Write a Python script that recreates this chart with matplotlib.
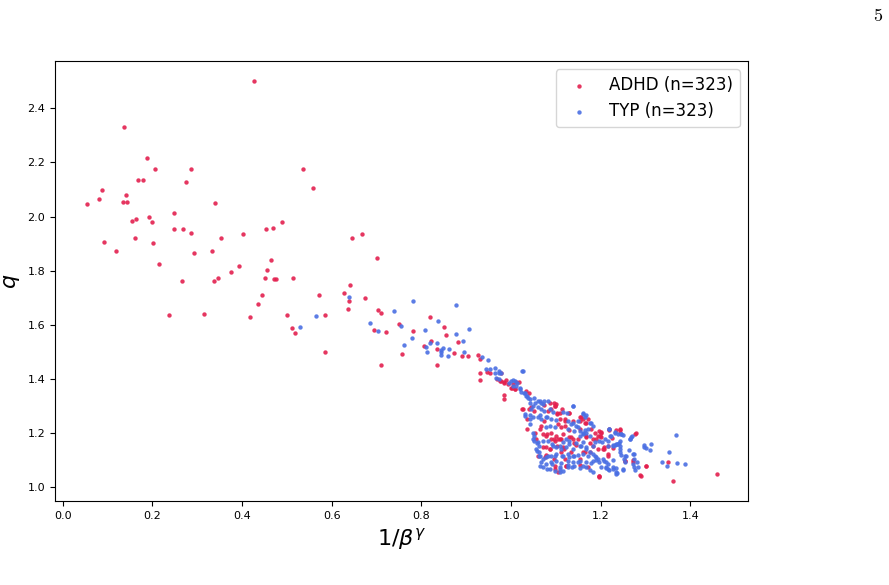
import numpy as np
import matplotlib
matplotlib.use('Agg')
import matplotlib.pyplot as plt

# ── Data ──────────────────────────────────────────────────────────────────────
n_adhd = 323
n_typ = 323

adhd_pts = [
    # sparse upper-left cloud
    (0.136, 2.331), (0.187, 2.215), (0.206, 2.175), (0.286, 2.175), (0.167, 2.136),
    (0.178, 2.136), (0.274, 2.129), (0.088, 2.098), (0.081, 2.066), (0.142, 2.080),
    (0.134, 2.055), (0.143, 2.054), (0.053, 2.045), (0.339, 2.049), (0.247, 2.013),
    (0.193, 1.997), (0.198, 1.978), (0.163, 1.991), (0.155, 1.984), (0.248, 1.953),
    (0.269, 1.953), (0.285, 1.940), (0.353, 1.921), (0.091, 1.904), (0.162, 1.920),
    (0.201, 1.903), (0.119, 1.874), (0.293, 1.865), (0.333, 1.874), (0.215, 1.823),
    (0.265, 1.762), (0.337, 1.760), (0.346, 1.771), (0.238, 1.636), (0.315, 1.641),
    (0.427, 2.501), (0.535, 2.174), (0.559, 2.104),
    (0.403, 1.937), (0.453, 1.955), (0.468, 1.959), (0.488, 1.981), (0.644, 1.921),
    (0.667, 1.937), (0.465, 1.840), (0.392, 1.818), (0.376, 1.796), (0.455, 1.802),
    (0.700, 1.847), (0.450, 1.774), (0.470, 1.769), (0.475, 1.769), (0.513, 1.774),
    (0.641, 1.747), (0.628, 1.717), (0.571, 1.711), (0.444, 1.711), (0.675, 1.699),
    (0.638, 1.686), (0.436, 1.677), (0.636, 1.658), (0.704, 1.655), (0.710, 1.642),
    (0.418, 1.628), (0.500, 1.636), (0.585, 1.636), (0.512, 1.587), (0.519, 1.569),
    (0.694, 1.581), (0.722, 1.572), (0.751, 1.604), (0.781, 1.575), (0.756, 1.493),
    (0.585, 1.499), (0.709, 1.450), (0.834, 1.450),
    (0.820, 1.629), (0.851, 1.590), (0.855, 1.563), (0.822, 1.539), (0.882, 1.537),
    (0.805, 1.523), (0.835, 1.511), (0.872, 1.495), (0.891, 1.483), (0.904, 1.486),
    (0.925, 1.489),
    # dense lower-right cluster
    (0.931, 1.474), (0.930, 1.423), (0.931, 1.395), (0.946, 1.425), (0.953, 1.423),
    (0.977, 1.393), (0.983, 1.388), (0.989, 1.395), (1.004, 1.380), (1.010, 1.388),
    (1.017, 1.388), (0.985, 1.341), (0.985, 1.327), (1.000, 1.367), (1.008, 1.361),
    (1.034, 1.355), (1.040, 1.349), (1.074, 1.302), (1.086, 1.312), (1.101, 1.306),
    (1.097, 1.300), (1.026, 1.290), (1.045, 1.294), (1.082, 1.281), (1.089, 1.287),
    (1.102, 1.273), (1.108, 1.275), (1.130, 1.275), (1.154, 1.260), (1.160, 1.251),
    (1.035, 1.251), (1.074, 1.244), (1.108, 1.253), (1.119, 1.244), (1.138, 1.244),
    (1.167, 1.238), (1.171, 1.251), (1.067, 1.226), (1.065, 1.214), (1.104, 1.232),
    (1.112, 1.220), (1.119, 1.224), (1.153, 1.216), (1.129, 1.211), (1.071, 1.195),
    (1.078, 1.189), (1.089, 1.201), (1.101, 1.189), (1.115, 1.195), (1.186, 1.199),
    (1.193, 1.189), (1.201, 1.204), (1.219, 1.211), (1.234, 1.211), (1.056, 1.177),
    (1.089, 1.177), (1.097, 1.171), (1.104, 1.177), (1.112, 1.177), (1.138, 1.177),
    (1.149, 1.179), (1.167, 1.183), (1.182, 1.179), (1.208, 1.146), (1.216, 1.152),
    (1.078, 1.146), (1.086, 1.140), (1.115, 1.146), (1.145, 1.155), (1.175, 1.130),
    (1.078, 1.118), (1.112, 1.128), (1.134, 1.128), (1.164, 1.128), (1.097, 1.079),
    (1.123, 1.079), (1.153, 1.081), (1.104, 1.054), (1.197, 1.039),
    (1.201, 1.201), (1.218, 1.214), (1.242, 1.214), (1.243, 1.199), (1.224, 1.182),
    (1.199, 1.187), (1.277, 1.197), (1.208, 1.140), (1.228, 1.143), (1.216, 1.122),
    (1.271, 1.101), (1.253, 1.096), (1.301, 1.076), (1.349, 1.093), (1.197, 1.039),
    (1.288, 1.045), (1.362, 1.022), (1.458, 1.047),
    (0.977, 1.420), (0.968, 1.398), (0.976, 1.392), (0.985, 1.383), (0.992, 1.380),
    (1.002, 1.367), (1.009, 1.364), (1.095, 1.309), (1.098, 1.300), (1.024, 1.287),
    (1.039, 1.287), (1.050, 1.281), (1.113, 1.287), (1.102, 1.269), (1.121, 1.250),
    (1.128, 1.275), (1.035, 1.214), (1.054, 1.201), (1.080, 1.195), (1.095, 1.177),
    (1.110, 1.177), (1.128, 1.183), (1.072, 1.146), (1.087, 1.140), (1.102, 1.150),
    (1.117, 1.140), (1.061, 1.115), (1.076, 1.109), (1.095, 1.103), (1.121, 1.103),
    (1.098, 1.066), (1.123, 1.076),
    (1.156, 1.257), (1.153, 1.244), (1.164, 1.238), (1.179, 1.214), (1.197, 1.208),
    (1.201, 1.183), (1.190, 1.177), (1.242, 1.211), (1.279, 1.198), (1.205, 1.140),
    (1.216, 1.115), (1.253, 1.097), (1.271, 1.091), (1.301, 1.076), (1.290, 1.042),
    (1.134, 1.183), (1.141, 1.164), (1.167, 1.189), (1.175, 1.164), (1.182, 1.152),
    (1.193, 1.140), (1.160, 1.128), (1.153, 1.103), (1.171, 1.072), (1.197, 1.036),
]

typ_pts = [
    # sparse part
    (0.639, 1.704), (0.782, 1.686), (0.739, 1.650), (0.565, 1.631), (0.530, 1.592),
    (0.686, 1.608), (0.704, 1.575), (0.755, 1.596), (0.779, 1.549), (0.760, 1.526),
    (0.876, 1.672), (0.837, 1.615), (0.808, 1.581), (0.905, 1.583), (0.876, 1.564),
    (0.892, 1.540), (0.818, 1.533), (0.809, 1.518), (0.835, 1.531), (0.844, 1.507),
    (0.848, 1.513), (0.861, 1.510), (0.843, 1.499), (0.813, 1.499), (0.895, 1.500),
    (0.843, 1.487), (0.860, 1.484), (0.934, 1.481),
    # dense cluster
    (0.948, 1.469), (0.943, 1.437), (0.952, 1.437), (0.963, 1.440), (0.974, 1.427),
    (0.977, 1.423), (1.026, 1.429), (0.967, 1.403), (0.973, 1.400), (0.995, 1.386),
    (1.000, 1.392), (1.008, 1.392), (1.011, 1.373), (1.019, 1.367), (1.022, 1.351),
    (1.030, 1.349), (1.034, 1.337), (1.037, 1.330), (1.052, 1.330), (1.060, 1.318),
    (1.067, 1.312), (1.074, 1.318), (1.082, 1.318), (1.041, 1.312), (1.048, 1.300),
    (1.045, 1.287), (1.060, 1.294), (1.067, 1.287), (1.074, 1.281), (1.086, 1.287),
    (1.093, 1.278), (1.139, 1.300), (1.115, 1.278), (1.124, 1.275), (1.160, 1.275),
    (1.166, 1.265), (1.150, 1.244), (1.030, 1.269), (1.041, 1.265), (1.048, 1.260),
    (1.060, 1.257), (1.067, 1.251), (1.078, 1.257), (1.089, 1.251), (1.099, 1.248),
    (1.126, 1.244), (1.134, 1.232), (1.145, 1.226), (1.179, 1.238), (1.041, 1.232),
    (1.078, 1.220), (1.086, 1.224), (1.097, 1.220), (1.126, 1.214), (1.141, 1.208),
    (1.153, 1.208), (1.164, 1.211), (1.048, 1.201), (1.052, 1.189), (1.153, 1.189),
    (1.160, 1.195), (1.167, 1.201), (1.175, 1.187), (1.221, 1.189), (1.238, 1.195),
    (1.052, 1.171), (1.060, 1.165), (1.063, 1.152), (1.082, 1.171), (1.115, 1.167),
    (1.123, 1.177), (1.130, 1.171), (1.160, 1.165), (1.186, 1.165), (1.197, 1.171),
    (1.210, 1.179), (1.227, 1.155), (1.234, 1.158), (1.056, 1.140), (1.063, 1.130),
    (1.093, 1.152), (1.101, 1.146), (1.112, 1.140), (1.123, 1.146), (1.138, 1.140),
    (1.153, 1.152), (1.167, 1.146), (1.182, 1.150), (1.063, 1.115), (1.071, 1.103),
    (1.078, 1.109), (1.089, 1.113), (1.101, 1.122), (1.115, 1.115), (1.126, 1.122),
    (1.138, 1.113), (1.149, 1.118), (1.160, 1.122), (1.171, 1.115), (1.182, 1.122),
    (1.190, 1.109), (1.067, 1.091), (1.078, 1.085), (1.089, 1.091), (1.101, 1.097),
    (1.112, 1.088), (1.126, 1.097), (1.138, 1.091), (1.153, 1.097), (1.167, 1.093),
    (1.179, 1.088), (1.190, 1.101), (1.197, 1.093), (1.071, 1.072), (1.086, 1.066),
    (1.097, 1.060), (1.108, 1.066), (1.126, 1.072), (1.141, 1.076), (1.153, 1.069),
    (1.167, 1.072), (1.175, 1.064), (1.212, 1.072), (1.227, 1.066), (1.108, 1.054),
    (1.115, 1.060), (1.182, 1.056), (1.234, 1.054),
    (1.219, 1.214), (1.231, 1.204), (1.222, 1.189), (1.245, 1.195), (1.249, 1.193),
    (1.270, 1.189), (1.264, 1.179), (1.203, 1.165), (1.216, 1.150), (1.231, 1.155),
    (1.236, 1.157), (1.242, 1.152), (1.243, 1.171), (1.240, 1.162), (1.368, 1.192),
    (1.297, 1.155), (1.312, 1.157), (1.300, 1.145), (1.310, 1.135), (1.263, 1.135),
    (1.353, 1.131), (1.242, 1.128), (1.245, 1.118), (1.253, 1.113), (1.251, 1.103),
    (1.275, 1.122), (1.255, 1.093), (1.281, 1.091), (1.271, 1.084), (1.274, 1.072),
    (1.277, 1.063), (1.206, 1.097), (1.227, 1.100), (1.216, 1.085), (1.212, 1.070),
    (1.218, 1.064), (1.233, 1.069), (1.236, 1.052), (1.249, 1.063), (1.337, 1.093),
    (1.348, 1.076), (1.371, 1.087), (1.387, 1.085),
    (0.964, 1.420), (0.974, 1.423), (1.024, 1.429), (1.004, 1.395), (1.013, 1.383),
    (1.005, 1.373), (1.019, 1.361), (1.028, 1.349), (1.035, 1.337), (1.043, 1.324),
    (1.054, 1.312), (1.065, 1.318), (1.072, 1.306), (1.031, 1.263), (1.043, 1.253),
    (1.065, 1.265), (1.080, 1.257), (1.048, 1.177), (1.057, 1.164), (1.072, 1.171),
    (1.091, 1.158), (1.109, 1.152), (1.128, 1.158), (1.057, 1.134), (1.065, 1.115),
    (1.083, 1.115), (1.098, 1.115), (1.113, 1.115), (1.128, 1.109), (1.065, 1.079),
    (1.080, 1.066), (1.091, 1.085), (1.109, 1.072), (1.126, 1.081), (1.135, 1.072),
    (1.139, 1.300), (1.160, 1.269), (1.164, 1.260), (1.175, 1.238), (1.182, 1.226),
    (1.171, 1.214), (1.160, 1.201), (1.149, 1.220), (1.138, 1.238), (1.219, 1.214),
    (1.231, 1.201), (1.245, 1.195), (1.268, 1.183), (1.264, 1.177), (1.216, 1.171),
    (1.227, 1.152), (1.238, 1.158), (1.242, 1.140), (1.257, 1.115), (1.275, 1.103),
    (1.297, 1.146), (1.271, 1.122), (1.145, 1.164), (1.156, 1.152), (1.167, 1.140),
    (1.175, 1.128), (1.186, 1.115), (1.141, 1.115), (1.149, 1.091), (1.160, 1.079),
    (1.182, 1.097), (1.193, 1.103), (1.205, 1.103), (1.212, 1.091), (1.227, 1.072),
    (1.249, 1.066), (1.283, 1.072), (1.234, 1.048), (1.216, 1.066), (1.201, 1.072),
]

adhd_x, adhd_y = np.array(adhd_pts).T
typ_x, typ_y = np.array(typ_pts).T

# ── Plot ──────────────────────────────────────────────────────────────────────
fig = plt.figure(figsize=(8.89, 5.85), dpi=100)
ax = fig.add_axes([0.0619, 0.1436, 0.7795, 0.7521])

ax.scatter(adhd_x, adhd_y, s=10, color='#e3204f', alpha=0.9, linewidths=0,
           label=f'ADHD (n={n_adhd})')
ax.scatter(typ_x, typ_y, s=10, color='#4a6fe3', alpha=0.9, linewidths=0,
           label=f'TYP (n={n_typ})')

ax.set_xlabel(r'$1/\beta^{\gamma}$', fontsize=16)
ax.set_ylabel(r'$q$', fontsize=16)
ax.tick_params(labelsize=8)
ax.legend(loc='upper right', fontsize=12)

# page number from the source document
fig.text(0.993, 0.988, r'$5$', ha='right', va='top', fontsize=13,
         math_fontfamily='cm')

fig.savefig('out.png', dpi=100)
